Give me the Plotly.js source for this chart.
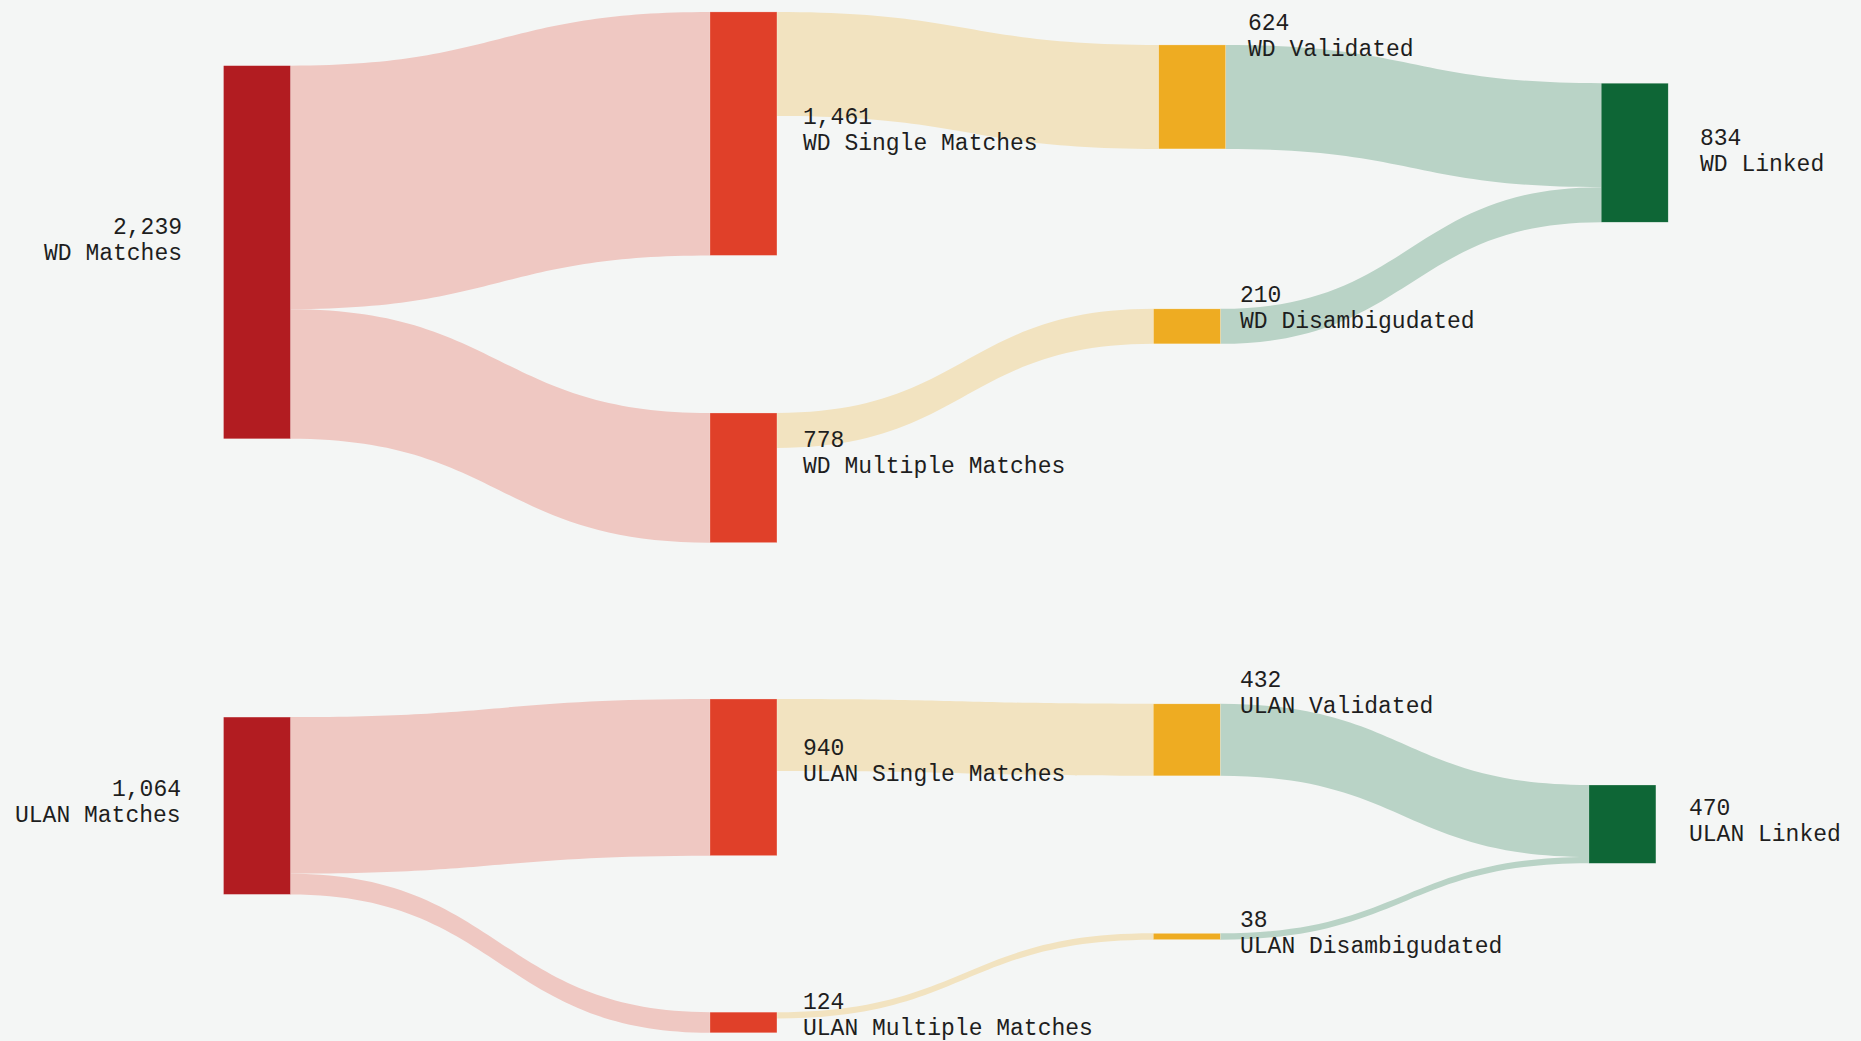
<!DOCTYPE html>
<html>
<head>
<meta charset="utf-8">
<script src="https://cdn.plot.ly/plotly-3.0.1.min.js"></script>
<style>
html, body { margin: 0; padding: 0; background: #f4f6f5; }
#chart { width: 1861px; height: 1041px; }
</style>
</head>
<body>
<div id="chart"></div>
<script>
// ---------- data ----------
const nodeNames = [
  'WD Matches', 'WD Single Matches', 'WD Multiple Matches',
  'WD Validated', 'WD Disambigudated', 'WD Linked',
  'ULAN Matches', 'ULAN Single Matches', 'ULAN Multiple Matches',
  'ULAN Validated', 'ULAN Disambigudated', 'ULAN Linked'
];
const linkSource = [0, 0, 1, 2, 3, 4, 6, 6, 7, 8, 9, 10];
const linkTarget = [1, 2, 3, 4, 5, 5, 7, 8, 9, 10, 11, 11];
const linkValue  = [1461, 778, 624, 210, 624, 210, 940, 124, 432, 38, 432, 38];

// ---------- layout / style (positions, colours) ----------
const W = 1861, H = 1041;
const nodeStage = [0, 1, 1, 2, 2, 3, 0, 1, 1, 2, 2, 3];
const stageNodeColor = ['#b21c21', '#e04029', '#eeac22', '#0e6636'];
const stageLinkColor = ['#efc8c2', '#f2e3c0', '#b9d3c6'];
// node centres, normalised (0..1, y from top)
const nodeX = [0.1381, 0.3995, 0.3995, 0.6406, 0.6378, 0.8784,
               0.1381, 0.3995, 0.3995, 0.6377, 0.6377, 0.8718];
const nodeY = [0.2423, 0.1284, 0.4590, 0.0931, 0.3135, 0.1467,
               0.7740, 0.7467, 0.9822, 0.7107, 0.8996, 0.7917];
// label anchor (pixels): x, y of first line centre, side
const labelX = [182.5, 802, 802, 1247, 1238.5, 1699, 181.5, 802, 802, 1238.5, 1239, 1688];
const labelY = [227.8, 118.3, 441.2, 23.8, 296.4, 138.8, 789.8, 748.6, 1003.2, 681, 920.8, 809];
const labelSide = ['right', 'left', 'left', 'left', 'left', 'left', 'right', 'left', 'left', 'left', 'left', 'left'];
const lineGap = 26;

// node totals = max(in, out)
const nodeTotal = nodeNames.map((_, i) => {
  let inn = 0, out = 0;
  linkValue.forEach((v, k) => {
    if (linkTarget[k] === i) inn += v;
    if (linkSource[k] === i) out += v;
  });
  return Math.max(inn, out);
});

const trace = {
  type: 'sankey',
  arrangement: 'fixed',
  domain: { x: [0, 1], y: [0, 1] },
  hoverinfo: 'none',
  node: {
    label: nodeNames.map(() => ''),
    x: nodeX,
    y: nodeY,
    thickness: 67,
    pad: 163.5,
    color: nodeStage.map(s => stageNodeColor[s]),
    line: { color: 'rgba(255,255,255,0.5)', width: 0.5 },
    hoverinfo: 'none'
  },
  link: {
    source: linkSource,
    target: linkTarget,
    value: linkValue,
    color: linkSource.map(s => stageLinkColor[nodeStage[s]]),
    hoverinfo: 'none'
  }
};

const font = { family: 'Liberation Mono, DejaVu Sans Mono, monospace', size: 23, color: '#1e1e1e' };
const annotations = [];
nodeNames.forEach((name, i) => {
  const lines = [nodeTotal[i].toLocaleString('en-US'), name];
  lines.forEach((t, j) => {
    annotations.push({
      xref: 'paper', yref: 'paper',
      x: labelX[i] / W,
      y: 1 - (labelY[i] + j * lineGap) / H,
      xanchor: labelSide[i], yanchor: 'middle',
      align: labelSide[i],
      text: t,
      showarrow: false,
      borderpad: 0,
      font: font
    });
  });
});

const layout = {
  width: W, height: H,
  margin: { l: 0, r: 0, t: 0, b: 0 },
  paper_bgcolor: '#f4f6f5',
  plot_bgcolor: '#f4f6f5',
  font: font,
  annotations: annotations
};

Plotly.newPlot('chart', [trace], layout, { displayModeBar: false, staticPlot: true });
</script>
</body>
</html>
